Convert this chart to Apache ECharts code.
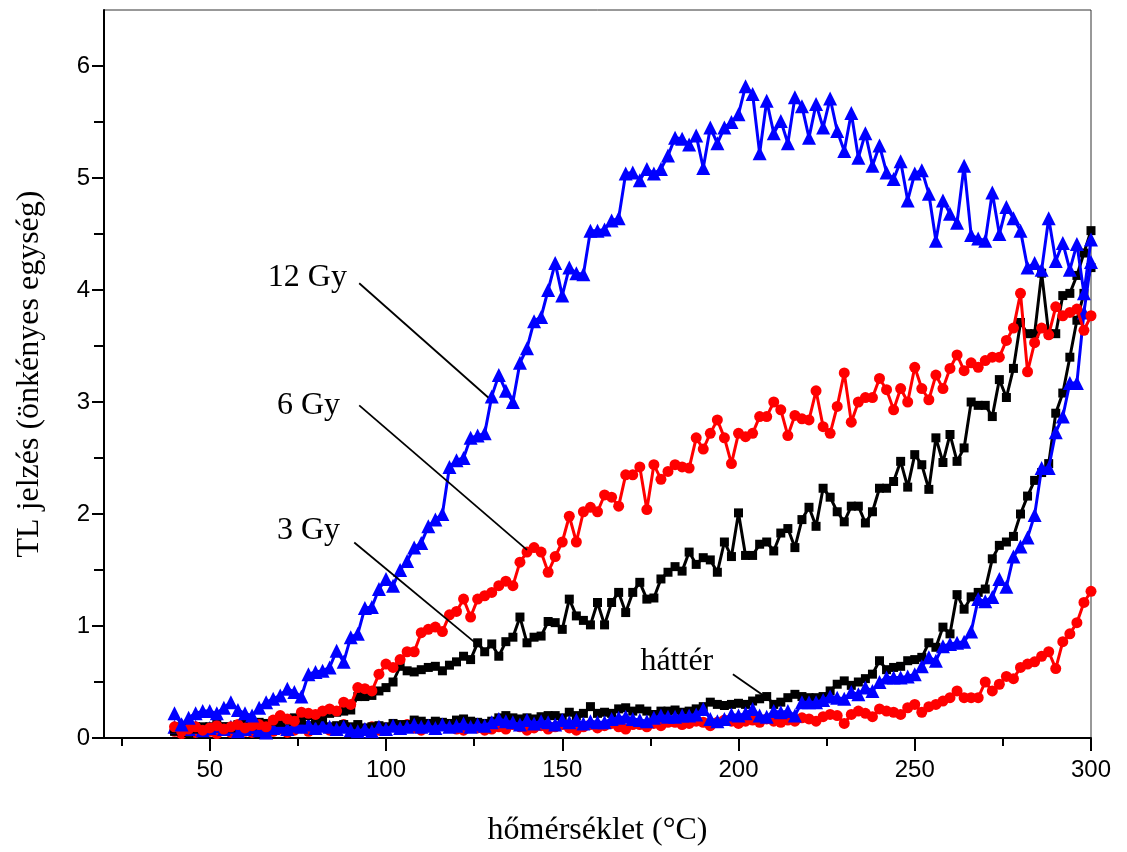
<!DOCTYPE html>
<html><head><meta charset="utf-8">
<script src="https://cdn.jsdelivr.net/npm/echarts@6/dist/echarts.min.js"></script>
<style>html,body{margin:0;padding:0;background:#fff}#c{width:1127px;height:852px}</style>
</head><body><div id="c"></div>
<script>
const temps = [40,42,44,46,48,50,52,54,56,58,60,62,64,66,68,70,72,74,76,78,80,82,84,86,88,90,92,94,96,98,
100,102,104,106,108,110,112,114,116,118,120,122,124,126,128,130,132,134,136,138,140,142,144,146,148,150,152,154,156,158,
160,162,164,166,168,170,172,174,176,178,180,182,184,186,188,190,192,194,196,198,200,202,204,206,208,210,212,214,216,218,
220,222,224,226,228,230,232,234,236,238,240,242,244,246,248,250,252,254,256,258,260,262,264,266,268,270,272,274,276,278,
280,282,284,286,288,290,292,294,296,298,300];

// 12 Gy (blue triangles)
const gy12 = [0.22,0.12,0.18,0.22,0.24,0.24,0.22,0.27,0.32,0.25,
0.22,0.2,0.27,0.32,0.35,0.38,0.44,0.41,0.37,0.57,
0.59,0.6,0.63,0.78,0.68,0.9,0.93,1.16,1.17,1.33,
1.42,1.36,1.5,1.58,1.7,1.74,1.89,1.95,2.0,2.42,
2.48,2.5,2.68,2.7,2.72,3.05,3.24,3.1,3.0,3.35,
3.48,3.72,3.76,4.0,4.24,3.95,4.2,4.15,4.14,4.53,
4.53,4.54,4.62,4.64,5.04,5.05,4.98,5.08,5.04,5.08,
5.2,5.36,5.35,5.3,5.38,5.09,5.45,5.31,5.45,5.5,
5.57,5.82,5.75,5.22,5.69,5.4,5.51,5.31,5.72,5.64,
5.36,5.66,5.45,5.71,5.42,5.24,5.58,5.18,5.4,5.11,
5.29,5.05,4.99,5.15,4.8,5.04,5.07,4.86,4.44,4.8,
4.68,4.6,5.11,4.49,4.46,4.44,4.87,4.5,4.74,4.64,
4.53,4.2,4.24,4.18,4.64,4.26,4.42,4.18,4.41,3.97,
4.45];

// 6 Gy (red circles)
const gy6 = [0.1,0.06,0.08,0.1,0.07,0.09,0.11,0.08,0.1,0.12,
0.09,0.11,0.12,0.1,0.16,0.2,0.17,0.15,0.23,0.22,
0.21,0.24,0.26,0.24,0.32,0.3,0.45,0.44,0.42,0.57,
0.66,0.63,0.7,0.77,0.77,0.94,0.97,0.99,0.95,1.1,
1.13,1.24,1.08,1.24,1.27,1.3,1.36,1.4,1.36,1.57,
1.66,1.7,1.66,1.48,1.62,1.75,1.98,1.75,2.02,2.06,
2.02,2.17,2.15,2.07,2.35,2.35,2.42,2.04,2.44,2.31,
2.38,2.44,2.42,2.41,2.68,2.58,2.72,2.84,2.68,2.45,
2.72,2.69,2.72,2.87,2.87,3.0,2.93,2.7,2.88,2.85,
2.84,3.1,2.78,2.72,2.96,3.26,2.82,3.0,3.04,3.04,
3.21,3.11,2.93,3.12,3.0,3.31,3.12,3.02,3.24,3.12,
3.3,3.42,3.28,3.35,3.31,3.37,3.4,3.4,3.55,3.66,
3.97,3.27,3.53,3.66,3.6,3.85,3.77,3.8,3.83,3.64,
3.77];

// 3 Gy (black squares)
const gy3 = [0.08,0.1,0.12,0.08,0.1,0.1,0.12,0.1,0.09,0.12,
0.13,0.11,0.14,0.13,0.15,0.14,0.16,0.18,0.16,0.2,
0.18,0.19,0.22,0.23,0.24,0.25,0.37,0.37,0.38,0.42,
0.45,0.5,0.64,0.6,0.59,0.61,0.63,0.64,0.6,0.65,
0.68,0.73,0.7,0.85,0.77,0.84,0.73,0.86,0.9,1.08,
0.85,0.9,0.91,1.04,1.03,0.97,1.24,1.09,1.05,1.01,
1.21,1.01,1.21,1.3,1.12,1.3,1.39,1.24,1.25,1.42,
1.48,1.53,1.49,1.66,1.55,1.61,1.59,1.48,1.75,1.62,
2.01,1.63,1.63,1.73,1.75,1.67,1.83,1.87,1.7,1.95,
2.06,1.89,2.23,2.15,2.02,1.93,2.07,2.07,1.92,2.02,
2.23,2.23,2.29,2.47,2.24,2.53,2.44,2.22,2.68,2.46,
2.71,2.47,2.59,3.0,2.97,2.97,2.87,3.2,3.04,3.3,
3.71,3.61,3.61,4.15,3.61,3.61,3.95,3.97,4.13,4.33,
4.53];

// háttér (background) curves
const bg3 = [0.06,0.08,0.05,0.1,0.08,0.07,0.09,0.1,0.08,0.11,
0.07,0.08,0.1,0.08,0.1,0.12,0.08,0.1,0.1,0.11,
0.13,0.12,0.1,0.11,0.12,0.1,0.12,0.09,0.1,0.11,
0.1,0.13,0.12,0.12,0.16,0.15,0.13,0.15,0.14,0.13,
0.16,0.17,0.15,0.14,0.13,0.15,0.18,0.2,0.18,0.17,
0.18,0.17,0.19,0.2,0.2,0.18,0.23,0.2,0.22,0.28,
0.22,0.23,0.22,0.26,0.27,0.24,0.26,0.24,0.21,0.24,
0.24,0.25,0.23,0.24,0.26,0.28,0.32,0.3,0.29,0.3,
0.31,0.3,0.33,0.35,0.37,0.3,0.32,0.36,0.39,0.37,
0.36,0.36,0.37,0.42,0.48,0.51,0.47,0.5,0.53,0.57,
0.69,0.61,0.63,0.64,0.69,0.7,0.72,0.85,0.81,0.99,
0.93,1.28,1.15,1.26,1.3,1.33,1.6,1.72,1.75,1.8,
2.0,2.16,2.3,2.37,2.45,2.9,3.08,3.4,3.73,3.97,
4.2];

const bg12 = [0.1,0.12,0.08,0.1,0.07,0.09,0.11,0.08,0.1,0.06,
0.08,0.1,0.07,0.05,0.09,0.1,0.08,0.11,0.1,0.12,
0.09,0.11,0.1,0.08,0.1,0.07,0.06,0.08,0.06,0.1,
0.08,0.11,0.09,0.1,0.12,0.1,0.11,0.09,0.12,0.1,
0.11,0.13,0.1,0.12,0.11,0.14,0.17,0.15,0.14,0.12,
0.16,0.13,0.15,0.14,0.12,0.16,0.14,0.16,0.13,0.15,
0.14,0.14,0.17,0.18,0.19,0.17,0.16,0.15,0.18,0.2,
0.19,0.19,0.2,0.2,0.21,0.26,0.17,0.15,0.17,0.21,
0.2,0.22,0.26,0.2,0.19,0.24,0.23,0.24,0.2,0.32,
0.32,0.32,0.34,0.37,0.36,0.35,0.41,0.39,0.45,0.42,
0.5,0.54,0.54,0.54,0.55,0.57,0.64,0.72,0.69,0.82,
0.84,0.85,0.86,0.95,1.24,1.22,1.26,1.42,1.35,1.62,
1.71,1.79,1.99,2.41,2.41,2.73,2.87,3.17,3.17,3.8,
4.25];

const bg6 = [0.06,0.04,0.07,0.05,0.08,0.06,0.04,0.07,0.05,0.08,
0.06,0.05,0.07,0.09,0.06,0.08,0.05,0.07,0.09,0.06,
0.08,0.1,0.07,0.09,0.12,0.08,0.06,0.08,0.1,0.07,
0.09,0.11,0.08,0.12,0.09,0.07,0.1,0.09,0.13,0.11,
0.08,0.07,0.1,0.09,0.07,0.08,0.1,0.08,0.12,0.1,
0.07,0.09,0.11,0.08,0.1,0.12,0.09,0.07,0.1,0.12,
0.09,0.11,0.13,0.1,0.08,0.12,0.12,0.1,0.13,0.11,
0.14,0.14,0.12,0.13,0.15,0.14,0.11,0.14,0.16,0.15,
0.13,0.15,0.16,0.14,0.17,0.15,0.14,0.16,0.15,0.18,
0.17,0.15,0.19,0.21,0.2,0.13,0.21,0.24,0.22,0.19,
0.26,0.24,0.23,0.21,0.27,0.3,0.23,0.28,0.3,0.33,
0.36,0.42,0.36,0.36,0.36,0.5,0.42,0.48,0.55,0.53,
0.63,0.66,0.68,0.73,0.77,0.62,0.86,0.93,1.03,1.21,
1.31];

const xMajor = [50,100,150,200,250,300];
const xMinor = [25,75,125,175,225,275];
const yMajor = [0,1,2,3,4,5,6];
const yMinor = [0.5,1.5,2.5,3.5,4.5,5.5];

const labelTexts = ['12 Gy','6 Gy','3 Gy','háttér'];
const labelPos = [[77.7,4.11],[78,2.97],[78,1.85],[182.5,0.68]];
const leaders = [
  [[92.4,4.06],[129,3.04]],
  [[92.4,2.97],[140,1.68]],
  [[91,1.745],[125.7,0.84]],
  [[198.4,0.57],[208.4,0.35]]
];

const chart = echarts.init(document.getElementById('c'));
const pairs = a => temps.map((t,i)=>[t,a[i]]);
function mk(name, arr, color, symbol, size, z){
  return {name, type:'line', data:pairs(arr), symbol, symbolSize:size,
    itemStyle:{color, opacity:1}, lineStyle:{color, width:3}, z, silent:true};
}
const axisCol = '#000';
const tickFont = {fontFamily:'Liberation Sans, Arial, sans-serif', fontSize:24, color:'#000'};
const nameFont = {fontFamily:'Liberation Serif, Times New Roman, serif', fontSize:32, color:'#000'};

chart.setOption({
  animation:false,
  backgroundColor:'#fff',
  grid:{left:104, right:36, top:10, bottom:113, show:true, borderColor:'#333', borderWidth:1, backgroundColor:'transparent'},
  xAxis:[
    {type:'value', min:20, max:300,
     axisLine:{show:true, onZero:false, lineStyle:{color:axisCol, width:2}},
     axisTick:{show:true, customValues:xMajor, length:13, lineStyle:{color:axisCol, width:2}},
     axisLabel:{customValues:xMajor, margin:20, ...tickFont},
     splitLine:{show:false},
     name:'hőmérséklet (°C)', nameLocation:'middle', nameGap:77, nameTextStyle:nameFont},
    {type:'value', min:20, max:300, position:'bottom',
     axisLine:{show:false},
     axisTick:{show:true, customValues:xMinor, length:8, lineStyle:{color:axisCol, width:2}},
     axisLabel:{show:false}, splitLine:{show:false}}
  ],
  yAxis:[
    {type:'value', min:0, max:6.5,
     axisLine:{show:true, onZero:false, lineStyle:{color:axisCol, width:2}},
     axisTick:{show:true, customValues:yMajor, length:12, lineStyle:{color:axisCol, width:2}},
     axisLabel:{customValues:yMajor, margin:14, ...tickFont},
     splitLine:{show:false},
     name:'TL jelzés (önkényes egység)', nameLocation:'middle', nameGap:58, nameTextStyle:nameFont},
    {type:'value', min:0, max:6.5, position:'left',
     axisLine:{show:false},
     axisTick:{show:true, customValues:yMinor, length:10, lineStyle:{color:axisCol, width:2}},
     axisLabel:{show:false}, splitLine:{show:false}}
  ],
  series:[
    mk('háttér 6 Gy', bg6, '#ff0000', 'circle', 11, 2),
    mk('háttér 3 Gy', bg3, '#000000', 'rect', 9, 3),
    mk('háttér 12 Gy', bg12, '#0000ff', 'triangle', 14, 4),
    mk('3 Gy', gy3, '#000000', 'rect', 9, 5),
    mk('6 Gy', gy6, '#ff0000', 'circle', 11, 6),
    mk('12 Gy', gy12, '#0000ff', 'triangle', 14, 7),
    {type:'lines', coordinateSystem:'cartesian2d', z:8, silent:true,
     lineStyle:{color:'#000', width:1.8, opacity:1},
     data: leaders.map(c=>({coords:c}))},
    {type:'scatter', z:9, symbolSize:0, silent:true,
     label:{show:true, position:'inside', formatter:'{b}', ...nameFont, color:'#000', textBorderWidth:0, opacity:1},
     data: labelTexts.map((t,i)=>({name:t, value:labelPos[i]}))}
  ]
});
</script></body></html>
